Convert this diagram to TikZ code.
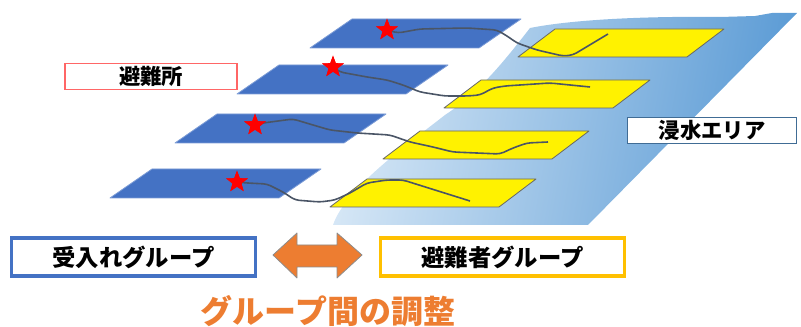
\documentclass[tikz,border=0pt]{standalone}
\usepackage{fontspec}
\setmainfont{Noto Sans CJK JP}
\usepackage{tikz}
\usetikzlibrary{shapes.geometric}
\definecolor{mapblue}{HTML}{4472C4}
\definecolor{goldline}{HTML}{FFC000}
\definecolor{adjorange}{HTML}{ED7D31}
\definecolor{floodlight}{HTML}{D6E7F6}
\definecolor{flooddark}{HTML}{5B9BD5}
\definecolor{routegray}{HTML}{4A5566}

\begin{document}
\begin{tikzpicture}[x=0.75pt,y=-0.75pt,
 plate/.style={draw=#1,line width=.6pt,line join=round},
 tagbox/.style={draw=#1,fill=white,align=center,inner sep=0pt,font=\bfseries\fontsize{16}{18}\selectfont},
 groupbox/.style={draw=#1,line width=2.8pt,fill=white,minimum width=183pt,minimum height=29pt,inner sep=0pt,
   font=\bfseries\fontsize{17.5}{20}\selectfont},
 shelter/.style={star,star points=5,star point ratio=2.4,fill=red,inner sep=0pt,minimum size=17pt},
 route/.style={draw=routegray,line width=1.2pt,rounded corners=3pt}]
\useasboundingbox (0,0) rectangle (801,327);

% flooded zone
\shade[left color=floodlight,right color=flooddark,shading angle=80]
 (530,28) .. controls (570,20) and (640,16) .. (720,17) -- (755,16) -- (772,13) -- (797,13)
 -- (588,225) -- (333,225) .. controls (345,190) and (400,150) .. (445,115)
 .. controls (480,92) and (505,60) .. (530,28) -- cycle;

% receiving districts (blue) and evacuating districts (yellow)
\foreach \x/\y in {310/48,237/94,175/143,110/198}
 \filldraw[plate=mapblue!70!white,fill=mapblue] (\x,\y) -- ++(42,-29) -- ++(169,0) -- ++(-42,29) -- cycle;
\foreach \x/\y in {518/57,444/108,383/159,330/207}
 \filldraw[plate=black!60,fill=yellow] (\x,\y) -- ++(37,-28) -- ++(169,0) -- ++(-37,28) -- cycle;

% shelters
\node[shelter] (s1) at (387,30) {};
\node[shelter] (s2) at (333,67) {};
\node[shelter] (s3) at (255,125) {};
\node[shelter] (s4) at (237,182) {};

% evacuation routes
\draw[route] (s1.center) -- (398,33) -- (420,29) -- (467,28) -- (497,30) -- (507,36) -- (517,43)
 -- (537,50) -- (563,56) -- (573,55) -- (608,34);
\draw[route] (s2.center) -- (340,72) -- (367,77) -- (387,80) -- (403,85) -- (420,92) -- (445,96)
 -- (467,96) -- (480,95) -- (493,88) -- (505,86) -- (550,83) -- (590,87);
\draw[route] (s3.center) -- (263,123) -- (293,119) -- (313,125) -- (330,130) -- (357,133) -- (390,135)
 -- (410,142) -- (433,147) -- (453,152) -- (500,154) -- (513,148) -- (527,143) -- (548,142);
\draw[route] (s4.center) -- (247,183) -- (267,184) -- (283,192) -- (295,200) -- (320,202) -- (335,200)
 -- (350,193) -- (367,183) -- (387,180) -- (403,180) -- (470,201);
\node[shelter] at (s1) {};
\node[shelter] at (s2) {};
\node[shelter] at (s3) {};
\node[shelter] at (s4) {};

% labels
\node[tagbox=red!60,line width=.9pt,minimum width=129pt,minimum height=20pt] (hinanjo) at (151,76.5) {避難所};
\node[tagbox=flooddark!70!black,line width=.6pt,minimum width=127pt,minimum height=19pt] (shinsui) at (712,130.5) {浸水エリア};

% the two groups
\node[groupbox=mapblue] (recv) at (133.5,257) {受入れグループ};
\node[groupbox=goldline] (evac) at (502.5,257) {避難者グループ};
\filldraw[fill=adjorange,draw=black!45,line width=.6pt,line join=round]
 (273,255) -- (297,233) -- (297,245) -- (337,245) -- (337,233) -- (362,255)
 -- (337,278) -- (337,267) -- (297,267) -- (297,278) -- cycle;
\node[text=adjorange,font=\bfseries\fontsize{24}{28}\selectfont] (adjust) at (328,311) {グループ間の調整};
\end{tikzpicture}
\end{document}
